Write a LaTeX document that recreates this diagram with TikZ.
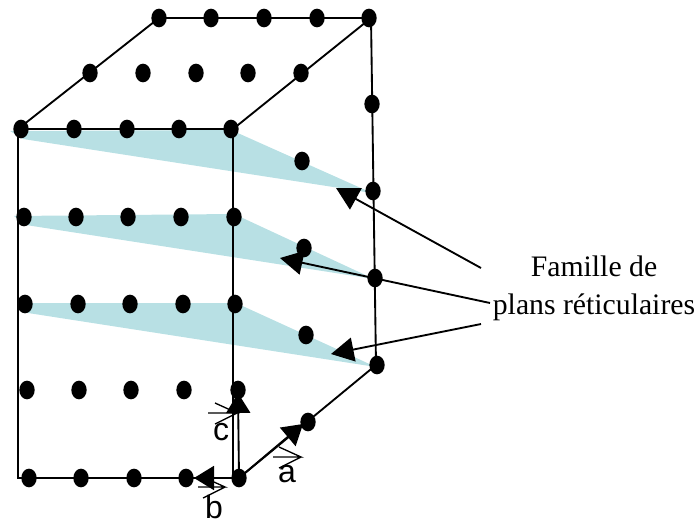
\documentclass[tikz,border=0pt]{standalone}
\usepackage{fontspec}
\setmainfont{Liberation Serif}
\setsansfont{Liberation Sans}
\usetikzlibrary{shapes}
\usetikzlibrary{arrows.meta}
\definecolor{planblue}{HTML}{B8E0E4}
\tikzset{
  site/.style={ellipse, fill=black, inner sep=0pt, minimum width=11.5pt, minimum height=14pt},
  edge/.style={draw=black, line width=1.4pt},
  pointer/.style={draw=black, line width=1.4pt, -{Triangle[length=17pt,width=18pt]}},
  basis/.style={draw=black, line width=1.4pt, -{Triangle[length=15pt,width=18pt]}},
  vecline/.style={draw=black, line width=1pt},
  veclabel/.style={font=\sffamily\fontsize{24}{24}\selectfont, inner sep=0pt}
}
\begin{document}
\begin{tikzpicture}[x=0.75pt,y=-0.75pt]
\useasboundingbox (0,0) rectangle (698,524);
% reticular planes
\fill [planblue] (10,131) -- (231,130) -- (372,193) -- (23,139) -- cycle;
\fill [planblue] (14,216) -- (234,214) -- (374,279) -- (26,225) -- cycle;
\fill [planblue] (17,303) -- (236,303) -- (376,367) -- (28,313) -- cycle;
% corners of the box
\coordinate (topleft) at (159,18);
\coordinate (topright) at (371,18);
\coordinate (frontleft) at (18,129);
\coordinate (frontright) at (233,129);
\coordinate (baseleft) at (18,478);
\coordinate (baseright) at (233,478);
\coordinate (backright) at (376,365);
\draw [edge] (frontleft) -- (topleft) -- (topright) -- (backright) -- (239,478);
\draw [edge] (topright) -- (frontright) -- (frontleft) -- (baseleft) -- (baseright) -- (frontright);
% top face
\node [site] (a1) at (159,18) {};
\node [site] (a2) at (211,18) {};
\node [site] (a3) at (264,18) {};
\node [site] (a4) at (317,18) {};
\node [site] (a5) at (369,18) {};
\node [site] (b1) at (90,73) {};
\node [site] (b2) at (143,73) {};
\node [site] (b3) at (196,73) {};
\node [site] (b4) at (248,73) {};
\node [site] (b5) at (301,73) {};
% front face
\node [site] (c1) at (21,129) {};
\node [site] (c2) at (74,129) {};
\node [site] (c3) at (127,129) {};
\node [site] (c4) at (179,129) {};
\node [site] (c5) at (231,129) {};
\node [site] (d1) at (24,217) {};
\node [site] (d2) at (76,217) {};
\node [site] (d3) at (128,217) {};
\node [site] (d4) at (181,217) {};
\node [site] (d5) at (234,217) {};
\node [site] (e1) at (25,304) {};
\node [site] (e2) at (78,304) {};
\node [site] (e3) at (130,304) {};
\node [site] (e4) at (183,304) {};
\node [site] (e5) at (235,304) {};
\node [site] (f1) at (27,390) {};
\node [site] (f2) at (79,390) {};
\node [site] (f3) at (131,390) {};
\node [site] (f4) at (184,390) {};
\node [site] (f5) at (238,390) {};
\node [site] (g1) at (29,478) {};
\node [site] (g2) at (81,478) {};
\node [site] (g3) at (134,478) {};
\node [site] (g4) at (186,478) {};
\node [site] (g5) at (239,478) {};
% side face
\node [site] (h1) at (372,104) {};
\node [site] (h2) at (373,191) {};
\node [site] (h3) at (375,278) {};
\node [site] (h4) at (377,365) {};
\node [site] (i1) at (302,161) {};
\node [site] (i2) at (304,248) {};
\node [site] (i3) at (306,335) {};
\node [site] (i4) at (308,422) {};
% basis vectors
\draw [basis] (g5.center) -- (238,393);
\draw [basis] (g5.center) -- (303,424);
\draw [basis] (g5.center) -- (194,478);
\node [veclabel] (la) at (287,474) {a};
\node [veclabel] (lb) at (214,507) {b};
\node [veclabel] (lc) at (221,432) {c};
\coordinate (va) at (273,457);
\coordinate (vb) at (198,487);
\coordinate (vc) at (208,413);
\draw [vecline] (va) -- ++(28,0) -- ++(-22,-10) ++(22,10) -- ++(-22,11);
\draw [vecline] (vb) -- ++(27,0) -- ++(-22,-10) ++(22,10) -- ++(-22,11);
\draw [vecline] (vc) -- ++(29,0) -- ++(-22,-10) ++(22,10) -- ++(-22,11);
% legend
\node [align=center, inner sep=0pt, font=\fontsize{22.3}{28.5}\selectfont] (famille) at (594,288) {Famille de\\plans réticulaires};
\coordinate (p1) at (481,268);
\coordinate (p2) at (490,303);
\coordinate (p3) at (481,324);
\coordinate (t1) at (336,188);
\coordinate (t2) at (280,258);
\coordinate (t3) at (331,354);
\draw [pointer] (p1) -- (t1);
\draw [pointer] (p2) -- (t2);
\draw [pointer] (p3) -- (t3);
\end{tikzpicture}
\end{document}
